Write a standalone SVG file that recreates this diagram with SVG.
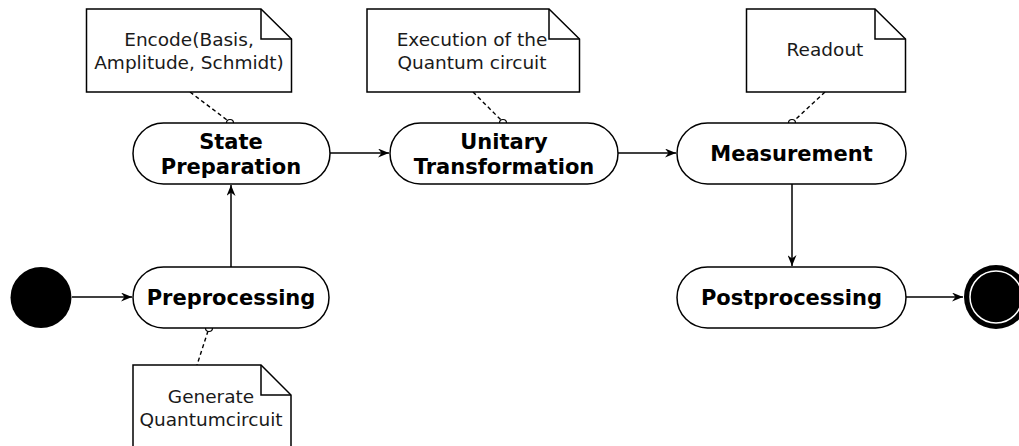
<svg xmlns="http://www.w3.org/2000/svg" width="1019" height="446" viewBox="0 0 1019 446">
  <style>
    .state { fill: #ffffff; stroke: #000000; stroke-width: 1.5; }
    .note { fill: #ffffff; stroke: #000000; stroke-width: 1.5; stroke-linejoin: miter; }
    .fold { fill: none; stroke: #000000; stroke-width: 1.5; }
    .label { font-family: "DejaVu Sans", Verdana, sans-serif; font-size: 21px; font-weight: bold; fill: #000000; text-anchor: middle; }
    .memo { font-family: "DejaVu Sans", Verdana, sans-serif; font-size: 18.5px; fill: #1a1a1a; text-anchor: middle; }
    .flow { fill: none; stroke: #000000; stroke-width: 1.5; }
    .link { fill: none; stroke: #000000; stroke-width: 1.4; stroke-dasharray: 4 3; }
    .anchor { fill: #ffffff; stroke: #000000; stroke-width: 1.2; }
  </style>
  <defs>
    <marker id="arrow" viewBox="0 0 11 9" refX="11" refY="4.5" markerWidth="11" markerHeight="9" markerUnits="userSpaceOnUse" orient="auto">
      <path d="M0,0 L11,4.5 L0,9 L3.5,4.5 Z" fill="#000000"/>
    </marker>
  </defs>

  <rect width="1019" height="446" fill="#ffffff"/>

  <!-- transitions and note links -->
  <g id="connectors">
    <line class="flow" x1="72" y1="297" x2="132" y2="297" marker-end="url(#arrow)"/>
    <line class="flow" x1="231" y1="267" x2="231" y2="185" marker-end="url(#arrow)"/>
    <line class="flow" x1="330" y1="153" x2="389" y2="153" marker-end="url(#arrow)"/>
    <line class="flow" x1="618" y1="153" x2="676" y2="153" marker-end="url(#arrow)"/>
    <line class="flow" x1="792" y1="184" x2="792" y2="266" marker-end="url(#arrow)"/>
    <line class="flow" x1="906" y1="297" x2="963" y2="297" marker-end="url(#arrow)"/>

    <line class="link" x1="190" y1="92" x2="227" y2="120"/>
    <circle class="anchor" cx="230" cy="123" r="3.5"/>
    <line class="link" x1="473" y1="92" x2="501" y2="120"/>
    <circle class="anchor" cx="503" cy="123" r="3.5"/>
    <line class="link" x1="825" y1="92" x2="795" y2="120"/>
    <circle class="anchor" cx="792" cy="123" r="3.5"/>
    <line class="link" x1="208" y1="331" x2="197" y2="365"/>
    <circle class="anchor" cx="209" cy="328" r="3.5"/>
  </g>

  <!-- initial pseudo-state -->
  <g id="start">
    <circle cx="41" cy="297.5" r="30.5" fill="#000000"/>
  </g>

  <!-- final pseudo-state -->
  <g id="end">
    <circle cx="996" cy="297" r="32" fill="#000000"/>
    <circle cx="996" cy="297" r="26" fill="#000000" stroke="#ffffff" stroke-width="1.5"/>
  </g>

  <g id="preprocessing">
    <rect class="state" x="133" y="267" width="196" height="61" rx="30.5"/>
    <text class="label" x="231" y="304.5">Preprocessing</text>
  </g>

  <g id="state-preparation">
    <rect class="state" x="133" y="123" width="197" height="61" rx="30.5"/>
    <text class="label" x="231" y="148.5">State</text>
    <text class="label" x="231" y="174">Preparation</text>
  </g>

  <g id="unitary-transformation">
    <rect class="state" x="390" y="123" width="228" height="61" rx="30.5"/>
    <text class="label" x="504" y="149">Unitary</text>
    <text class="label" x="504" y="174">Transformation</text>
  </g>

  <g id="measurement">
    <rect class="state" x="677" y="123" width="229" height="61" rx="30.5"/>
    <text class="label" x="791.5" y="160.5">Measurement</text>
  </g>

  <g id="postprocessing">
    <rect class="state" x="677" y="267" width="229" height="61" rx="30.5"/>
    <text class="label" x="791.5" y="304.5">Postprocessing</text>
  </g>

  <!-- notes -->
  <g id="note-encode">
    <path class="note" d="M86.5,9 H261 L291.5,39 V92 H86.5 Z"/>
    <path class="fold" d="M261,9 V39 H291.5"/>
    <text class="memo" x="189" y="45.5">Encode(Basis,</text>
    <text class="memo" x="189" y="68.5">Amplitude, Schmidt)</text>
  </g>

  <g id="note-execution">
    <path class="note" d="M367,9 H549 L579.5,39 V92 H367 Z"/>
    <path class="fold" d="M549,9 V39 H579.5"/>
    <text class="memo" x="472" y="45.5">Execution of the</text>
    <text class="memo" x="472" y="68.5">Quantum circuit</text>
  </g>

  <g id="note-readout">
    <path class="note" d="M746.5,9 H875 L905.5,39 V92 H746.5 Z"/>
    <path class="fold" d="M875,9 V39 H905.5"/>
    <text class="memo" x="825" y="56">Readout</text>
  </g>

  <g id="note-generate">
    <path class="note" d="M133,365 H261 L291,395 V450 H133 Z"/>
    <path class="fold" d="M261,365 V395 H291"/>
    <text class="memo" x="211" y="403">Generate</text>
    <text class="memo" x="211" y="426">Quantumcircuit</text>
  </g>
</svg>
